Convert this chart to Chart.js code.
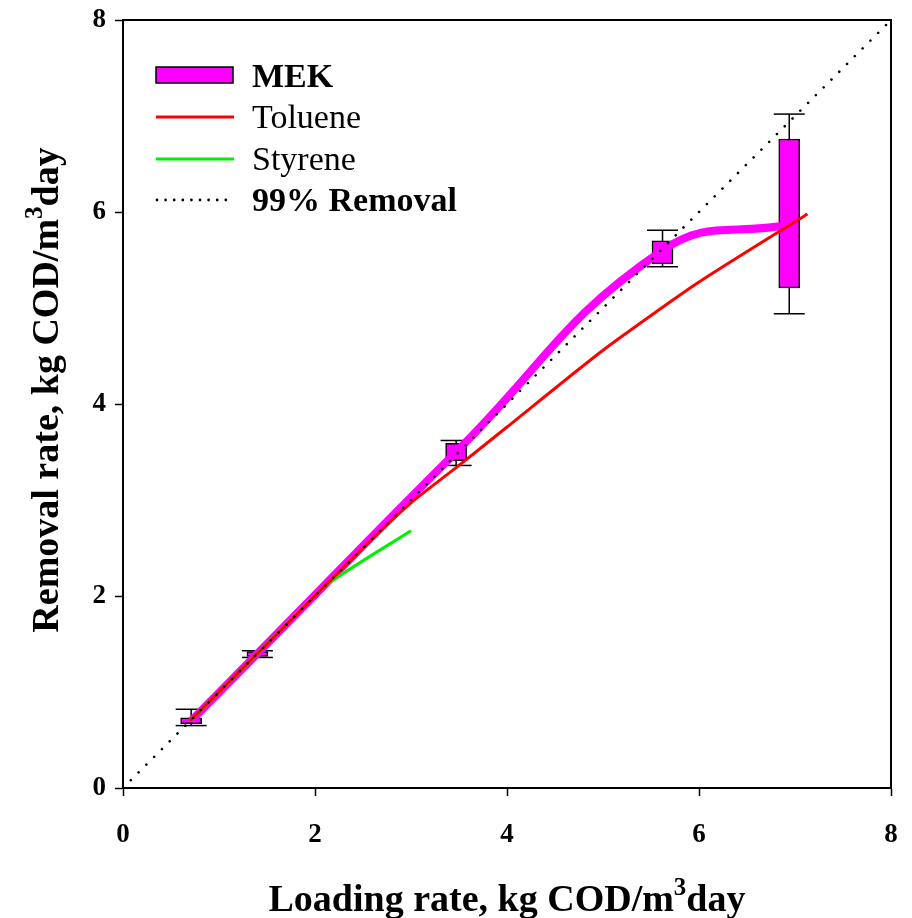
<!DOCTYPE html>
<html><head><meta charset="utf-8">
<script src="https://cdn.jsdelivr.net/npm/chart.js@4.4.1/dist/chart.umd.min.js"></script>
<style>html,body{margin:0;padding:0;background:#fff}#wrap{width:912px;height:918px}</style>
</head><body><div id="wrap"><canvas id="c" width="912" height="918"></canvas></div>
<script>
// ---- data ----
const xTicks = [0, 2, 4, 6, 8];
const yTicks = [0, 2, 4, 6, 8];
const seriesNames = ['MEK', 'Toluene', 'Styrene', '99% Removal'];
const mekLoad  = [0.71, 1.40, 3.47, 5.62, 6.94];
const mekMean  = [0.70, 1.40, 3.50, 5.60, 5.87];
const mekQ1    = [0.67, 1.37, 3.41, 5.46, 5.21];
const mekQ3    = [0.73, 1.42, 3.59, 5.70, 6.76];
const mekWLow  = [0.65, 1.36, 3.36, 5.43, 4.94];
const mekWHigh = [0.82, 1.43, 3.62, 5.81, 7.02];
const tolLoad  = [0.7, 1.5, 2.5, 3.0, 3.5, 4.0, 5.0, 6.0, 7.13];
const tolRem   = [0.7, 1.5, 2.5, 2.97, 3.36, 3.76, 4.56, 5.27, 5.98];
const styLoad  = [0.7, 1.4, 2.1, 3.0];
const styRem   = [0.7, 1.4, 2.1, 2.68];
const refLoad  = [0, 8];
const refRem   = [0, 8];
const xTitle = ['Loading rate, kg COD/m', '3', 'day'];
const yTitle = ['Removal rate, kg COD/m', '3', 'day'];

// ---- style ----
const FAM = '"Liberation Serif","Times New Roman",serif';
const MAG = '#ff00ff', RED = '#ff0000', GRN = '#00f000';

const pts = (xs, ys) => xs.map((x, i) => ({x, y: ys[i]}));
const boxData = mekLoad.map((x, i) => ({x, y: [mekQ1[i], mekQ3[i]]}));
const whiskerData = [];
mekLoad.forEach((x, i) => { whiskerData.push({x, y: mekWLow[i]}, {x, y: mekWHigh[i]}, {x, y: null}); });

function drawRich(ctx, parts, big, small, rise) {
  ctx.font = 'bold ' + big + 'px ' + FAM;
  const w0 = ctx.measureText(parts[0]).width;
  const w2 = ctx.measureText(parts[2]).width;
  ctx.font = 'bold ' + small + 'px ' + FAM;
  const w1 = ctx.measureText(parts[1]).width;
  let x = -(w0 + w1 + w2) / 2;
  ctx.textBaseline = 'alphabetic'; ctx.textAlign = 'left'; ctx.fillStyle = '#000';
  ctx.font = 'bold ' + big + 'px ' + FAM; ctx.fillText(parts[0], x, 0); x += w0;
  ctx.font = 'bold ' + small + 'px ' + FAM; ctx.fillText(parts[1], x, -rise); x += w1;
  ctx.font = 'bold ' + big + 'px ' + FAM; ctx.fillText(parts[2], x, 0);
}

const decor = {
  id: 'decor',
  afterDatasetsDraw(chart) {
    const {ctx, chartArea: a} = chart;
    ctx.save();
    ctx.strokeStyle = '#000'; ctx.lineWidth = 2;
    ctx.strokeRect(a.left, a.top, a.right - a.left, a.bottom - a.top);
    ctx.restore();
  },
  afterDraw(chart) {
    const {ctx} = chart;
    ctx.save();
    // axis titles
    ctx.save(); ctx.translate(507, 911); drawRich(ctx, xTitle, 38, 25, 16); ctx.restore();
    ctx.save(); ctx.translate(58, 390); ctx.rotate(-Math.PI / 2); drawRich(ctx, yTitle, 38, 25, 16); ctx.restore();
    // legend
    const x0 = 156, x1 = 233, tx = 252;
    const rows = [75, 117, 159, 200];
    const base = [87, 128, 170, 211];
    ctx.fillStyle = MAG; ctx.fillRect(x0, rows[0] - 8, x1 - x0, 16);
    ctx.strokeStyle = '#000'; ctx.lineWidth = 1.5; ctx.strokeRect(x0, rows[0] - 8, x1 - x0, 16);
    ctx.lineWidth = 3;
    ctx.strokeStyle = RED; ctx.beginPath(); ctx.moveTo(x0, rows[1]); ctx.lineTo(x1 + 1, rows[1]); ctx.stroke();
    ctx.strokeStyle = GRN; ctx.beginPath(); ctx.moveTo(x0, rows[2]); ctx.lineTo(x1 + 1, rows[2]); ctx.stroke();
    ctx.fillStyle = '#000';
    for (let xx = x0 + 1; xx <= x1; xx += 8.6) { ctx.beginPath(); ctx.arc(xx, rows[3], 1.4, 0, Math.PI * 2); ctx.fill(); }
    ctx.textAlign = 'left'; ctx.textBaseline = 'alphabetic'; ctx.fillStyle = '#000';
    const weights = ['bold', 'normal', 'normal', 'bold'];
    seriesNames.forEach((n, i) => { ctx.font = weights[i] + ' 34px ' + FAM; ctx.fillText(n, tx, base[i]); });
    ctx.restore();
  }
};

const zeroPad = s => { s.paddingLeft = 0; s.paddingRight = 0; s.paddingTop = 0; s.paddingBottom = 0; };
const tickFont = {family: FAM, size: 27, weight: 'bold'};
new Chart(document.getElementById('c'), {
  type: 'scatter',
  data: {
    datasets: [
      {type: 'line', label: seriesNames[3], data: pts(refLoad, refRem), borderColor: '#000', borderWidth: 2.6,
       borderDash: [0.01, 11], borderCapStyle: 'round', pointRadius: 0, tension: 0, order: 0},
      {type: 'line', label: seriesNames[1], data: pts(tolLoad, tolRem), borderColor: RED, borderWidth: 3,
       pointRadius: 0, tension: 0.2, order: 1},
      {type: 'line', label: seriesNames[2], data: pts(styLoad, styRem), borderColor: GRN, borderWidth: 3,
       pointRadius: 0, tension: 0.2, order: 2},
      {type: 'line', label: seriesNames[0], data: pts(mekLoad, mekMean), borderColor: MAG, borderWidth: 8,
       pointRadius: 0, tension: 0.45, order: 3},
      {type: 'bar', label: 'MEK box', data: boxData, backgroundColor: MAG, borderColor: '#000', borderWidth: 1.5,
       borderSkipped: false, barThickness: 21, order: 4},
      {type: 'line', label: 'MEK whiskers', data: whiskerData, borderColor: '#000', borderWidth: 1.5, spanGaps: false,
       pointStyle: 'line', pointRadius: 15.5, pointBorderColor: '#000', pointBorderWidth: 1.5, tension: 0, order: 5}
    ]
  },
  options: {
    responsive: false, animation: false, devicePixelRatio: 1,
    layout: {padding: {top: 20, right: 21, left: 0, bottom: 0}},
    plugins: {legend: {display: false}, tooltip: {enabled: false}},
    scales: {
      x: {type: 'linear', min: 0, max: 8, offset: false,
          afterBuildTicks: s => { s.ticks = xTicks.map(v => ({value: v})); },
          afterFit: s => { s.height = 130; zeroPad(s); },
          grid: {offset: false, drawOnChartArea: false, drawTicks: true, tickLength: 8, tickWidth: 1.5, tickColor: '#000'},
          border: {display: true, color: '#000', width: 2},
          ticks: {font: tickFont, color: '#000', padding: 23, maxRotation: 0, autoSkip: false}},
      y: {type: 'linear', min: 0, max: 8, offset: false,
          afterBuildTicks: s => { s.ticks = yTicks.map(v => ({value: v})); },
          afterFit: s => { s.width = 123; zeroPad(s); },
          grid: {offset: false, drawOnChartArea: false, drawTicks: true, tickLength: 8, tickWidth: 1.5, tickColor: '#000'},
          border: {display: true, color: '#000', width: 2},
          ticks: {font: tickFont, color: '#000', padding: 9, autoSkip: false}}
    }
  },
  plugins: [decor]
});
</script></body></html>
